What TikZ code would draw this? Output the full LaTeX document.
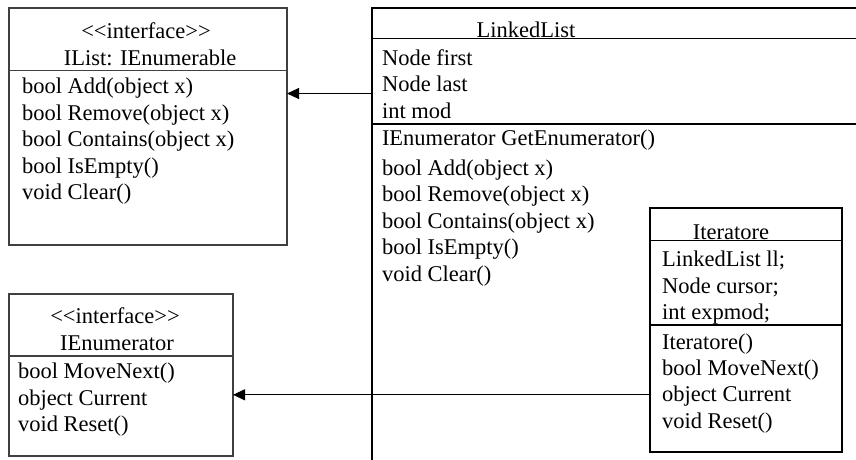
\documentclass[tikz,border=0pt]{standalone}
\usepackage{fontspec}
\setmainfont{Liberation Serif}
\usetikzlibrary{arrows.meta}

% stereotype brackets, kept apart so no guillemet ligature forms
\newcommand\dblless{\textless\kern0pt\textless}
\newcommand\dblgreater{\textgreater\kern0pt\textgreater}

\tikzset{
  classbox/.style={draw=black!75, line width=1.2pt, rectangle, inner sep=0pt,
    outer sep=0pt, anchor=north west},
  heavybox/.style={draw=black, line width=2.4pt, rectangle, inner sep=0pt,
    outer sep=0pt, anchor=north west},
  member/.style={anchor=base west, inner sep=0pt, outer sep=0pt,
    font=\fontsize{22.5}{26.5}\selectfont},
  classtitle/.style={anchor=base, inner sep=0pt, outer sep=0pt,
    font=\fontsize{22.5}{26.5}\selectfont},
  divider/.style={draw=black, line width=1.2pt},
  lightdivider/.style={draw=black!75, line width=1.2pt},
  assoc/.style={draw=black, line width=1.1pt,
    -{Triangle[length=12pt,width=11pt]}},
}

\begin{document}
\begin{tikzpicture}[x=1pt,y=-1pt]
\useasboundingbox (0,0) rectangle (856,459);
\clip (0,0) rectangle (856,459);

% ---------- IList interface ----------
\node[classbox, minimum width=278pt, minimum height=237pt] (ilist) at (9,8) {};
\draw[lightdivider] (ilist.west |- 0,70.5) -- (ilist.east |- 0,70.5);
\node[classtitle] (ilistS) at (146,38.5) {\dblless interface\dblgreater};
\node[classtitle] (ilistN) at (150,65) {IList: IEnumerable};
\foreach \m [count=\i] in {bool Add(object x), bool Remove(object x),
    bool Contains(object x), bool IsEmpty(), void Clear()}
  \node[member] (ilistM\i) at (22,{93.7+26.5*(\i-1)}) {\m};

% ---------- LinkedList class (runs past the page edge) ----------
\node[heavybox, minimum width=600pt, minimum height=520pt] (linked) at (372,8) {};
\draw[divider] (linked.west |- 0,38.3) -- (linked.east |- 0,38.3);
\draw[divider] (linked.west |- 0,124) -- (linked.east |- 0,124);
\node[classtitle] (linkedN) at (526,37) {LinkedList};
\foreach \m [count=\i] in {Node first, Node last, int mod}
  \node[member] (linkedF\i) at (382,{65+26.5*(\i-1)}) {\m};
\node[member] (linkedG) at (382,145) {IEnumerator GetEnumerator()};
\foreach \m [count=\i] in {bool Add(object x), bool Remove(object x),
    bool Contains(object x), bool IsEmpty(), void Clear()}
  \node[member] (linkedM\i) at (382,{175.5+26.4*(\i-1)}) {\m};

% ---------- Iteratore class ----------
\node[heavybox, minimum width=192pt, minimum height=244pt] (iter) at (650,208) {};
\draw[divider] (iter.west |- 0,240.7) -- (iter.east |- 0,240.7);
\draw[divider] (iter.west |- 0,325) -- (iter.east |- 0,325);
\node[classtitle] (iterN) at (731,239) {Iteratore};
\foreach \m [count=\i] in {LinkedList ll;, Node cursor;, int expmod;}
  \node[member] (iterF\i) at (662,{266.6+26.4*(\i-1)}) {\m};
\foreach \m [count=\i] in {Iteratore(), bool MoveNext(), object Current,
    void Reset()}
  \node[member] (iterM\i) at (662,{349.5+26.2*(\i-1)}) {\m};

% ---------- IEnumerator interface ----------
\node[classbox, minimum width=224pt, minimum height=162pt] (ienum) at (9,294) {};
\draw[lightdivider] (ienum.west |- 0,356) -- (ienum.east |- 0,356);
\node[classtitle] (ienumS) at (115,323.5) {\dblless interface\dblgreater};
\node[classtitle] (ienumN) at (117,350) {IEnumerator};
\foreach \m [count=\i] in {bool MoveNext(), object Current, void Reset()}
  \node[member] (ienumM\i) at (18,{378.7+26.5*(\i-1)}) {\m};

% ---------- associations ----------
\draw[assoc] (linked.west |- 0,93.5) -- (ilist.east |- 0,93.5);
\draw[assoc] (iter.west |- 0,394.8) -- (ienum.east |- 0,394.8);
\end{tikzpicture}
\end{document}
